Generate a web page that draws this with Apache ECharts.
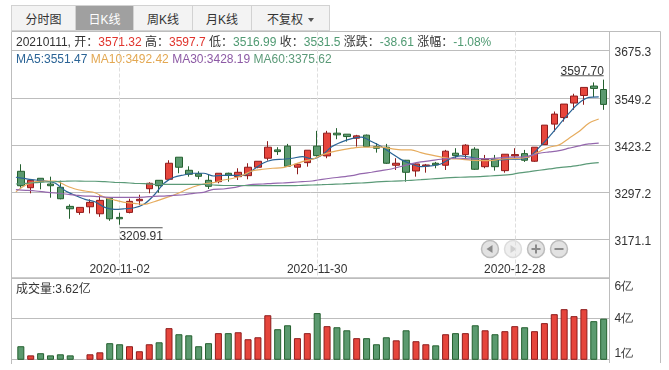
<!DOCTYPE html>
<html>
<head>
<meta charset="utf-8">
<script src="https://cdn.jsdelivr.net/npm/echarts@6/dist/echarts.min.js"></script>
<style>
  html, body {margin: 0; padding: 0; background: #fff; overflow: hidden;}
  body, .tab, .info {font: 12px "Liberation Sans", "Noto Sans CJK SC", sans-serif; color: #333;}
  #chart {position: absolute; left: 0; top: 0; width: 669px; height: 370px;}
  .tabs {position: absolute; left: 11px; top: 5px; height: 25px; display: flex; z-index: 2;}
  .tab {box-sizing: border-box; height: 26px; line-height: 28px; text-align: center; background: #f3f3f3; border: 1px solid #d2d2d2; border-left: 0;}
  .tab:first-child {border-left: 1px solid #d2d2d2;}
  .tab.on {background: #a0a0a0; color: #fff;}
  .arrow {display: inline-block; margin-left: 5px; vertical-align: 2px; border: 3.5px solid transparent; border-top: 4px solid #555; border-bottom: 0;}
  .info {position: absolute; left: 16px; white-space: pre; z-index: 2;}
  .red {color: #e0342d;} .green {color: #4f9a72;}
</style>
</head>
<body>
<div id="chart"></div>
<div class="tabs">
  <div class="tab" style="width:65px">分时图</div>
  <div class="tab on" style="width:58px">日K线</div>
  <div class="tab" style="width:59px">周K线</div>
  <div class="tab" style="width:59px">月K线</div>
  <div class="tab" style="width:78px">不复权<span class="arrow"></span></div>
</div>
<div class="info" style="top:32px">20210111, 开：<span class="red">3571.32</span> 高：<span class="red">3597.7</span> 低：<span class="green">3516.99</span> 收：<span class="green">3531.5</span> 涨跌：<span class="green">-38.61</span> 涨幅：<span class="green">-1.08%</span></div>
<div class="info" style="top:52px"><span style="color:#2b6496">MA5:3551.47</span> <span style="color:#e3a852">MA10:3492.42</span> <span style="color:#8d5aa5">MA30:3428.19</span> <span style="color:#5b9a78">MA60:3375.62</span></div>
<div class="info" style="top:279px">成交量:3.62亿</div>
<script>
const dates = [
  '2020-10-19', '2020-10-20', '2020-10-21', '2020-10-22', '2020-10-23', '2020-10-26', '2020-10-27', '2020-10-28', '2020-10-29', '2020-10-30',
  '2020-11-02', '2020-11-03', '2020-11-04', '2020-11-05', '2020-11-06', '2020-11-09', '2020-11-10', '2020-11-11', '2020-11-12', '2020-11-13',
  '2020-11-16', '2020-11-17', '2020-11-18', '2020-11-19', '2020-11-20', '2020-11-23', '2020-11-24', '2020-11-25', '2020-11-26', '2020-11-27',
  '2020-11-30', '2020-12-01', '2020-12-02', '2020-12-03', '2020-12-04', '2020-12-07', '2020-12-08', '2020-12-09', '2020-12-10', '2020-12-11',
  '2020-12-14', '2020-12-15', '2020-12-16', '2020-12-17', '2020-12-18', '2020-12-21', '2020-12-22', '2020-12-23', '2020-12-24', '2020-12-25',
  '2020-12-28', '2020-12-29', '2020-12-30', '2020-12-31', '2021-01-04', '2021-01-05', '2021-01-06', '2021-01-07', '2021-01-08', '2021-01-11',
]
const dateTicks = ['2020-11-02', '2020-11-30', '2020-12-28']
const priceTicks = [3171.1, 3297.2, 3423.2, 3549.2, 3675.3]

const opens = [
  3352.7, 3308.8, 3334, 3318.7, 3309.9, 3258.9, 3242.8, 3257.8, 3239.1, 3280.4,
  3229.4, 3242.8, 3273.9, 3306.1, 3328.6, 3331.3, 3390.3, 3355.4, 3346.3, 3328.6,
  3324.9, 3347.4, 3338.3, 3341, 3363.5, 3387.6, 3409.9, 3419.8, 3363.5, 3375.8,
  3419.8, 3393.8, 3454.6, 3451.9, 3441.2, 3449.3, 3418.7, 3417.1, 3368.8, 3382.2,
  3353.5, 3367, 3374.2, 3368.8, 3401, 3397.3, 3411.7, 3365, 3384.9, 3354.4,
  3393.8, 3399.9, 3379.6, 3424, 3478.8, 3496.4, 3535.1, 3555.4, 3580.6, 3571.32,
]
const closes = [
  3314.1, 3328.6, 3324.9, 3314.1, 3279.3, 3252.5, 3256.2, 3269.6, 3275, 3225.7,
  3225.7, 3272.3, 3277.7, 3320.6, 3314.1, 3374.2, 3363.5, 3344.7, 3339.3, 3312.5,
  3347.4, 3342, 3350, 3363.5, 3379.5, 3417.1, 3405.3, 3366.1, 3371.5, 3409,
  3394.6, 3454.6, 3450.1, 3445.5, 3447.4, 3418.7, 3414.4, 3374.2, 3374.2, 3350,
  3372.3, 3369.6, 3369.6, 3406.4, 3394.6, 3422.5, 3358.1, 3384.9, 3365, 3398.3,
  3397.3, 3382.2, 3417.1, 3476.1, 3505.6, 3532.4, 3553.8, 3576.9, 3574.2, 3531.5,
]
const lows = [
  3308.8, 3293.8, 3304.5, 3282, 3277.7, 3225.7, 3236.4, 3240.1, 3231, 3220.3,
  3209.91, 3240.1, 3262.4, 3293.8, 3295.4, 3329.4, 3347.4, 3338.3, 3331.3, 3305.3,
  3320.6, 3324.9, 3329.4, 3331.3, 3360.8, 3381.2, 3396.4, 3365, 3344.7, 3365,
  3391.9, 3387.6, 3438.5, 3432, 3418.7, 3418.7, 3402.6, 3372.3, 3356.2, 3324.9,
  3338.3, 3349, 3360.8, 3356.2, 3386.5, 3386.5, 3356.2, 3360.8, 3354.4, 3349,
  3386.5, 3377.7, 3377.7, 3424, 3458.9, 3485.7, 3517.1, 3530.5, 3551.1, 3516.99,
]
const highs = [
  3371.5, 3331.3, 3334, 3338.3, 3327.5, 3264.3, 3256.2, 3277.7, 3288.4, 3283,
  3241.7, 3279.3, 3290, 3323.3, 3328.6, 3382.2, 3390.3, 3366.1, 3352.7, 3342.8,
  3347.4, 3349, 3360.8, 3374.2, 3379.5, 3433.2, 3417.1, 3425.9, 3374.2, 3409,
  3460.8, 3460.8, 3468, 3451.9, 3450.1, 3450.9, 3427.8, 3425.9, 3387.6, 3383,
  3374.2, 3372.3, 3377.7, 3409.9, 3414.4, 3425.1, 3417.1, 3396.4, 3396.4, 3398.3,
  3414.4, 3409.9, 3417.1, 3476.1, 3512.5, 3532.4, 3560, 3576.9, 3590.3, 3597.7,
]
const ma5 = [
  3336.7, 3332.9, 3329.4, 3326.7, 3320.6, 3300.7, 3288.4, 3277.7, 3271.3, 3256.2,
  3250.9, 3252.5, 3255.2, 3265.1, 3289.2, 3320.6, 3336.7, 3342.8, 3347.4, 3347.4,
  3340.1, 3342, 3342, 3342, 3356.2, 3374.2, 3383, 3384.9, 3387.6, 3391.9,
  3385.7, 3396.4, 3418.7, 3431.3, 3440.2, 3443.9, 3432.1, 3418.7, 3401, 3383.8,
  3372.3, 3365, 3367, 3372.3, 3386.5, 3393.8, 3390.3, 3386.5, 3386.5, 3383,
  3384.9, 3384.9, 3391.9, 3417.1, 3445.5, 3476.9, 3508.2, 3535.1, 3550.1, 3551.47,
]
const ma10 = [
  3298, 3316, 3324.9, 3326.7, 3326.7, 3315.2, 3305.3, 3300, 3295.4, 3283,
  3275.8, 3269.6, 3266.9, 3264.3, 3271.3, 3280.4, 3289.2, 3300.7, 3311.5, 3318.7,
  3322.2, 3329.4, 3334, 3342.8, 3354.4, 3358.1, 3360.8, 3362.4, 3369.6, 3378.5,
  3384.9, 3396.4, 3404.5, 3409.9, 3414.4, 3417.1, 3417.1, 3417.1, 3413.3, 3409.9,
  3409.9, 3402.6, 3396.4, 3391.1, 3386.5, 3384.9, 3382.2, 3381.2, 3381.2, 3384.9,
  3386.5, 3387.6, 3391.9, 3405.3, 3417.1, 3423.3, 3441.2, 3458.9, 3481.4, 3492.42,
]
const ma30 = [
  3303.4, 3301.8, 3300, 3297.2, 3294.6, 3291.9, 3289.2, 3286.5, 3285.7, 3283.8,
  3283, 3283, 3283, 3283.8, 3285.7, 3286.5, 3288.4, 3290, 3293.8, 3296.4,
  3304.5, 3305.3, 3308.8, 3314.1, 3317.9, 3318.7, 3320.6, 3321.4, 3323.3, 3324.9,
  3326.7, 3331.3, 3334.8, 3337.5, 3341, 3346.3, 3350.1, 3354.4, 3358.9, 3365.6,
  3372.3, 3377.7, 3381.2, 3384.9, 3387.6, 3387.6, 3385.7, 3386.5, 3386.5, 3388.4,
  3390.3, 3390.3, 3393.8, 3401, 3404.5, 3408, 3414.4, 3420.6, 3425.9, 3428.19,
]
const ma60 = [
  3318.7, 3320.6, 3322.2, 3324, 3324.9, 3326, 3326.7, 3326, 3326, 3324.9,
  3323.3, 3322.2, 3320.6, 3319.5, 3317.9, 3317.9, 3317.9, 3317.9, 3317.9, 3317.9,
  3316, 3314.7, 3314.7, 3314.7, 3314.1, 3314.1, 3314.1, 3314.1, 3314.1, 3315.2,
  3316, 3316.8, 3317.9, 3318.7, 3320.6, 3321.4, 3323.3, 3324.9, 3326, 3327,
  3328.6, 3330.2, 3332.1, 3334, 3335.6, 3336.7, 3337.5, 3338.3, 3340.1, 3342,
  3343.6, 3348.2, 3351.7, 3355.4, 3358.9, 3362.4, 3365, 3368.8, 3373.1, 3375.62,
]
// 成交量, 单位亿
const volumes = [
  2.08, 1.57, 1.69, 1.57, 1.63, 1.57, 1.37, 1.63, 1.74, 2.25,
  2.19, 2.08, 1.8, 2.19, 2.3, 3.09, 2.75, 2.69, 2.08, 2.25,
  2.81, 2.81, 2.86, 2.47, 2.58, 3.81, 3.03, 3.25, 2.53, 2.81,
  3.93, 3.2, 3.14, 2.97, 2.53, 2.53, 2.19, 2.58, 2.41, 2.97,
  2.36, 2.19, 2.13, 2.75, 2.81, 2.81, 3.25, 2.97, 2.75, 2.92,
  3.2, 3.14, 2.92, 3.37, 3.87, 4.15, 3.76, 4.15, 3.48, 3.62,
]

const UP = '#e6453c'
const UP_BORDER = '#8e1c1c'
const DOWN = '#5b9a6f'
const DOWN_BORDER = '#24602f'
const FRAME = '#bdbdbd'

const kData = dates.map((d, i) => [opens[i], closes[i], lows[i], highs[i]])
const volData = volumes.map((v, i) => {
  const up = closes[i] >= opens[i]
  return {
    value: v,
    itemStyle: {color: up ? UP : DOWN, borderColor: up ? UP_BORDER : DOWN_BORDER, borderWidth: 1},
  }
})

const frameLine = (x1, y1, x2, y2, lineWidth = 1) => ({
  type: 'line',
  shape: {x1, y1, x2, y2},
  style: {stroke: FRAME, lineWidth},
  silent: true,
})

const navButton = (cx, path, dim) => ({
  type: 'group',
  silent: true,
  children: [
    {type: 'circle', shape: {cx, cy: 249, r: 8.5}, style: {fill: dim ? '#efefef' : '#e2e2e2', stroke: dim ? '#dcdcdc' : '#bcbcbc', lineWidth: 1.5}},
    {type: 'polygon', shape: {points: path}, style: {fill: dim ? '#cfcfcf' : '#8a8a8a'}},
  ],
})

const maLine = (name, data, color) => ({
  name,
  type: 'line',
  xAxisIndex: 2,
  yAxisIndex: 1,
  data,
  smooth: 0.3,
  showSymbol: false,
  silent: true,
  z: 5,
  lineStyle: {color, width: 1.2},
})

const extremeMark = (date, value, text, offsetY, position, distance) => ({
  coord: [date, value],
  symbol: 'rect',
  symbolSize: [43, 1],
  symbolOffset: [position === 'top' ? -21.5 : 21.5, offsetY],
  itemStyle: {color: '#555'},
  label: {show: true, formatter: text, position, distance, color: '#333', fontSize: 12},
})

const chart = echarts.init(document.getElementById('chart'), null, {renderer: 'canvas'})
const hiddenValueX = gridIndex => ({type: 'value', gridIndex, min: 0, max: 1, show: false})
const font = {fontFamily: 'Liberation Sans', fontSize: 12, color: '#333'}

chart.setOption({
  animation: false,
  backgroundColor: '#fff',
  textStyle: {fontFamily: 'Liberation Sans, Noto Sans CJK SC'},
  grid: [
    {left: 11.5, top: 31.5, width: 598, height: 228},
    {left: 15.9, top: 31.5, width: 592.7, height: 246.5},
    {left: 11.5, top: 278, width: 598, height: 81.3},
    {left: 15.9, top: 278, width: 592.7, height: 81.3},
  ],
  xAxis: [
    hiddenValueX(0),
    {
      type: 'category',
      gridIndex: 1,
      data: dates,
      axisLine: {show: false},
      axisTick: {show: false},
      axisLabel: {...font, inside: true, margin: 2, interval: (i, v) => dateTicks.includes(v)},
      splitLine: {
        show: true,
        alignWithLabel: true,
        interval: (i, v) => dateTicks.includes(v),
        lineStyle: {color: '#dedede', type: 'dashed'},
      },
    },
    {type: 'category', gridIndex: 1, data: [...dates, ''], boundaryGap: false, show: false},
    hiddenValueX(2),
    {type: 'category', gridIndex: 3, data: dates, show: false},
  ],
  yAxis: [
    {
      type: 'value',
      gridIndex: 0,
      position: 'right',
      min: 3116.9,
      max: 3726.4,
      axisLine: {show: false},
      axisTick: {show: true, length: 4, customValues: priceTicks, lineStyle: {color: FRAME}},
      axisLabel: {...font, margin: 5, verticalAlign: 'top', lineHeight: 5, customValues: priceTicks, formatter: v => v.toFixed(1)},
      splitLine: {show: true, lineStyle: {color: FRAME}},
    },
    {type: 'value', gridIndex: 1, min: 3067.4, max: 3726.4, show: false, splitLine: {show: false}},
    {
      type: 'value',
      gridIndex: 2,
      position: 'right',
      min: 1.35,
      max: 5.89,
      interval: 2.27,
      axisLine: {show: false},
      axisTick: {show: true, length: 4, lineStyle: {color: FRAME}},
      axisLabel: {
        ...font,
        margin: 5,
        padding: [3, 0, 0, 0],
        verticalAlignMinLabel: 'bottom',
        verticalAlignMaxLabel: 'top',
        formatter: v => Math.round(v) + '亿',
      },
      splitLine: {show: true, lineStyle: {color: FRAME}},
    },
    {type: 'value', gridIndex: 3, min: 1.35, max: 5.89, show: false, splitLine: {show: false}},
  ],
  graphic: [
    frameLine(11.5, 31.5, 660.5, 31.5),
    frameLine(11.5, 31.5, 11.5, 364),
    frameLine(609.5, 31.5, 609.5, 363),
    frameLine(660.5, 31.5, 660.5, 363),
    frameLine(11.5, 278, 609.5, 278, 1.5),
    navButton(490, [[492.5, 245], [492.5, 253], [486.5, 249]], false),
    navButton(513, [[510.5, 245], [510.5, 253], [516.5, 249]], true),
    navButton(536, [[535, 244.5], [537, 244.5], [537, 248], [540.5, 248], [540.5, 250], [537, 250], [537, 253.5], [535, 253.5], [535, 250], [531.5, 250], [531.5, 248], [535, 248]], false),
    navButton(559, [[554.5, 248], [563.5, 248], [563.5, 250], [554.5, 250]], false),
  ],
  series: [
    {
      type: 'candlestick',
      xAxisIndex: 1,
      yAxisIndex: 1,
      data: kData,
      barWidth: 7,
      silent: true,
      z: 3,
      itemStyle: {color: UP, color0: DOWN, borderColor: UP_BORDER, borderColor0: DOWN_BORDER, borderWidth: 1},
      markPoint: {
        silent: true,
        data: [
          extremeMark(dates[59], highs[59], highs[59].toFixed(2), -4, 'top', -3),
          extremeMark(dates[10], lows[10], lows[10].toFixed(2), 3, 'bottom', 2),
        ],
      },
    },
    maLine('MA5', ma5, '#2b6496'),
    maLine('MA10', ma10, '#e6ac5e'),
    maLine('MA30', ma30, '#9467ad'),
    maLine('MA60', ma60, '#5b9a78'),
    {
      type: 'bar',
      xAxisIndex: 4,
      yAxisIndex: 3,
      data: volData,
      barWidth: 7,
      silent: true,
    },
  ],
})
</script>
</body>
</html>
